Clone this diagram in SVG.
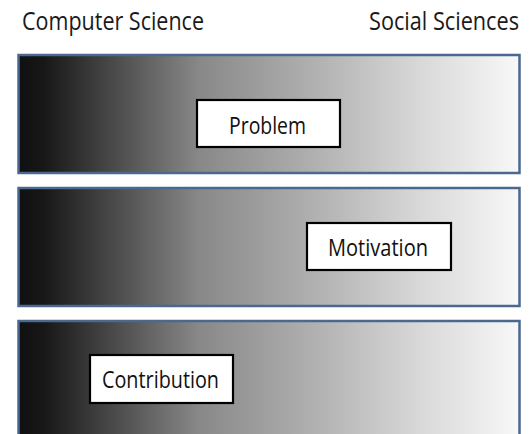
<svg xmlns="http://www.w3.org/2000/svg" width="529" height="434" viewBox="0 0 529 434">
<defs>
<linearGradient id="g" x1="0" y1="0" x2="1" y2="0">
<stop offset="0" stop-color="#101010"/>
<stop offset="0.05" stop-color="#171717"/>
<stop offset="0.22" stop-color="#555555"/>
<stop offset="0.36" stop-color="#888888"/>
<stop offset="0.6" stop-color="#b2b2b2"/>
<stop offset="0.8" stop-color="#d8d8d8"/>
<stop offset="1" stop-color="#f8f8f8"/>
</linearGradient>
</defs>
<style>
.band{fill:url(#g);stroke:#4a6890;stroke-width:2.5}
.box{fill:#fff;stroke:#000;stroke-width:2.2}
.hdr{font-family:"Open Sans","Liberation Sans",sans-serif;font-size:26px;fill:#1a1a1a}
.lbl{font-family:"Open Sans","Liberation Sans",sans-serif;font-size:24px;fill:#111}
</style>
<rect width="529" height="434" fill="#fff"/>
<g id="header-cs"><text class="hdr" x="22" y="30" textLength="182" lengthAdjust="spacingAndGlyphs">Computer Science</text></g>
<g id="header-ss"><text class="hdr" x="369" y="30" textLength="150" lengthAdjust="spacingAndGlyphs">Social Sciences</text></g>
<g id="band1"><rect class="band" x="18.5" y="55" width="501" height="118"/></g>
<g id="band2"><rect class="band" x="18.5" y="188" width="501" height="118"/></g>
<g id="band3"><rect class="band" x="18.5" y="321" width="501" height="118"/></g>
<g id="problem"><rect class="box" x="197" y="100" width="143" height="47"/><text class="lbl" x="229" y="134" textLength="77" lengthAdjust="spacingAndGlyphs">Problem</text></g>
<g id="motivation"><rect class="box" x="307" y="223" width="144" height="47"/><text class="lbl" x="328" y="256" textLength="100" lengthAdjust="spacingAndGlyphs">Motivation</text></g>
<g id="contribution"><rect class="box" x="90" y="355" width="143" height="48"/><text class="lbl" x="102" y="388" textLength="117" lengthAdjust="spacingAndGlyphs">Contribution</text></g>
<g id="connectors"/>
</svg>
